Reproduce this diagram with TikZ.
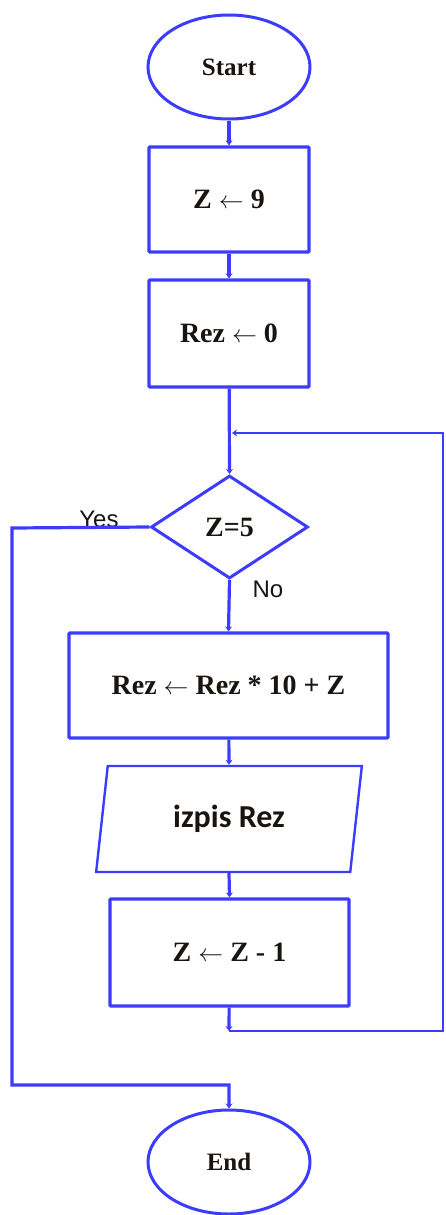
\documentclass[tikz,border=0pt]{standalone}
\usepackage{fontspec}
\setmainfont{Liberation Serif}
\newfontfamily\lsans{Liberation Sans}
\newfontfamily\carl{Carlito}
\usetikzlibrary{shapes.geometric,arrows.meta}
\definecolor{flow}{RGB}{60,60,255}
\definecolor{ink}{RGB}{25,20,15}
\newcommand{\lar}{\ensuremath{\leftarrow}}
\tikzset{
  line/.style={draw=flow,line width=3.2pt},
  conn/.style={line,-{Stealth[length=5pt,width=7pt]}},
  term/.style={ellipse,draw=flow,line width=3pt,minimum width=162pt,minimum height=104pt,inner sep=0pt,font=\fontsize{25}{28}\selectfont\bfseries,text=ink},
  proc/.style={rectangle,draw=flow,line width=3.2pt,rounded corners=1pt,inner sep=0pt,font=\fontsize{28}{31}\selectfont\bfseries,text=ink},
  deci/.style={diamond,draw=flow,line width=3pt,inner sep=0pt,minimum width=157pt,minimum height=103pt,font=\fontsize{28}{31}\selectfont\bfseries,text=ink},
  iobox/.style={trapezium,trapezium left angle=79,trapezium right angle=101,trapezium stretches=true,draw=flow,line width=2.4pt,inner sep=0pt,minimum width=266pt,minimum height=106pt,font=\carl\fontsize{32}{36}\selectfont\bfseries,text=ink},
  lbl/.style={font=\lsans\fontsize{24}{28}\selectfont,text=ink,inner sep=0pt}
}
\begin{document}
\begin{tikzpicture}[x=1pt,y=-1pt]
\useasboundingbox (0,0) rectangle (445,1215);
\node[term] (start) at (229,67) {Start};
\node[proc,minimum width=160pt,minimum height=105pt] (z9) at (229,199.5) {Z \lar{} 9};
\node[proc,minimum width=160pt,minimum height=107pt] (rez0) at (229,333.5) {Rez \lar{} 0};
\coordinate (join) at (229,433);
\node[deci] (dec) at (229.5,527) {Z=5};
\node[proc,minimum width=319pt,minimum height=105pt] (calc) at (228.5,685.5) {Rez \lar{} Rez * 10 + Z};
\node[iobox] (out) at (229,819) {izpis Rez};
\node[proc,minimum width=239pt,minimum height=107pt] (z1) at (229.5,952.5) {Z \lar{} Z - 1};
\coordinate (lb) at (229,1031);
\coordinate (lbr) at (443,1031);
\coordinate (ltr) at (443,433);
\coordinate (jr) at (232,433);
\coordinate (yl) at (12,528);
\coordinate (yb) at (12,1085);
\coordinate (eb) at (229,1085);
\node[term] (end) at (229,1162) {End};
\node[lbl] (yes) at (99,519) {Yes};
\node[lbl] (no) at (268,589) {No};
\draw[conn] (start) -- (z9);
\draw[conn] (z9) -- (rez0);
\draw[conn] (rez0) -- (dec.north);
\draw[conn] (dec.south) -- (calc.north);
\draw[conn] (calc) -- (out.north);
\draw[conn] (out.south) -- (z1.north);
\draw[conn] (z1) -- (lb);
\draw[line,line width=2.4pt,-{Stealth[length=5pt,width=7pt]}] (lb) -- (lbr) -- (ltr) -- (jr);
\draw[conn] (dec.west) -- (yl) -- (yb) -- (eb) -- (end.north);
\end{tikzpicture}
\end{document}
